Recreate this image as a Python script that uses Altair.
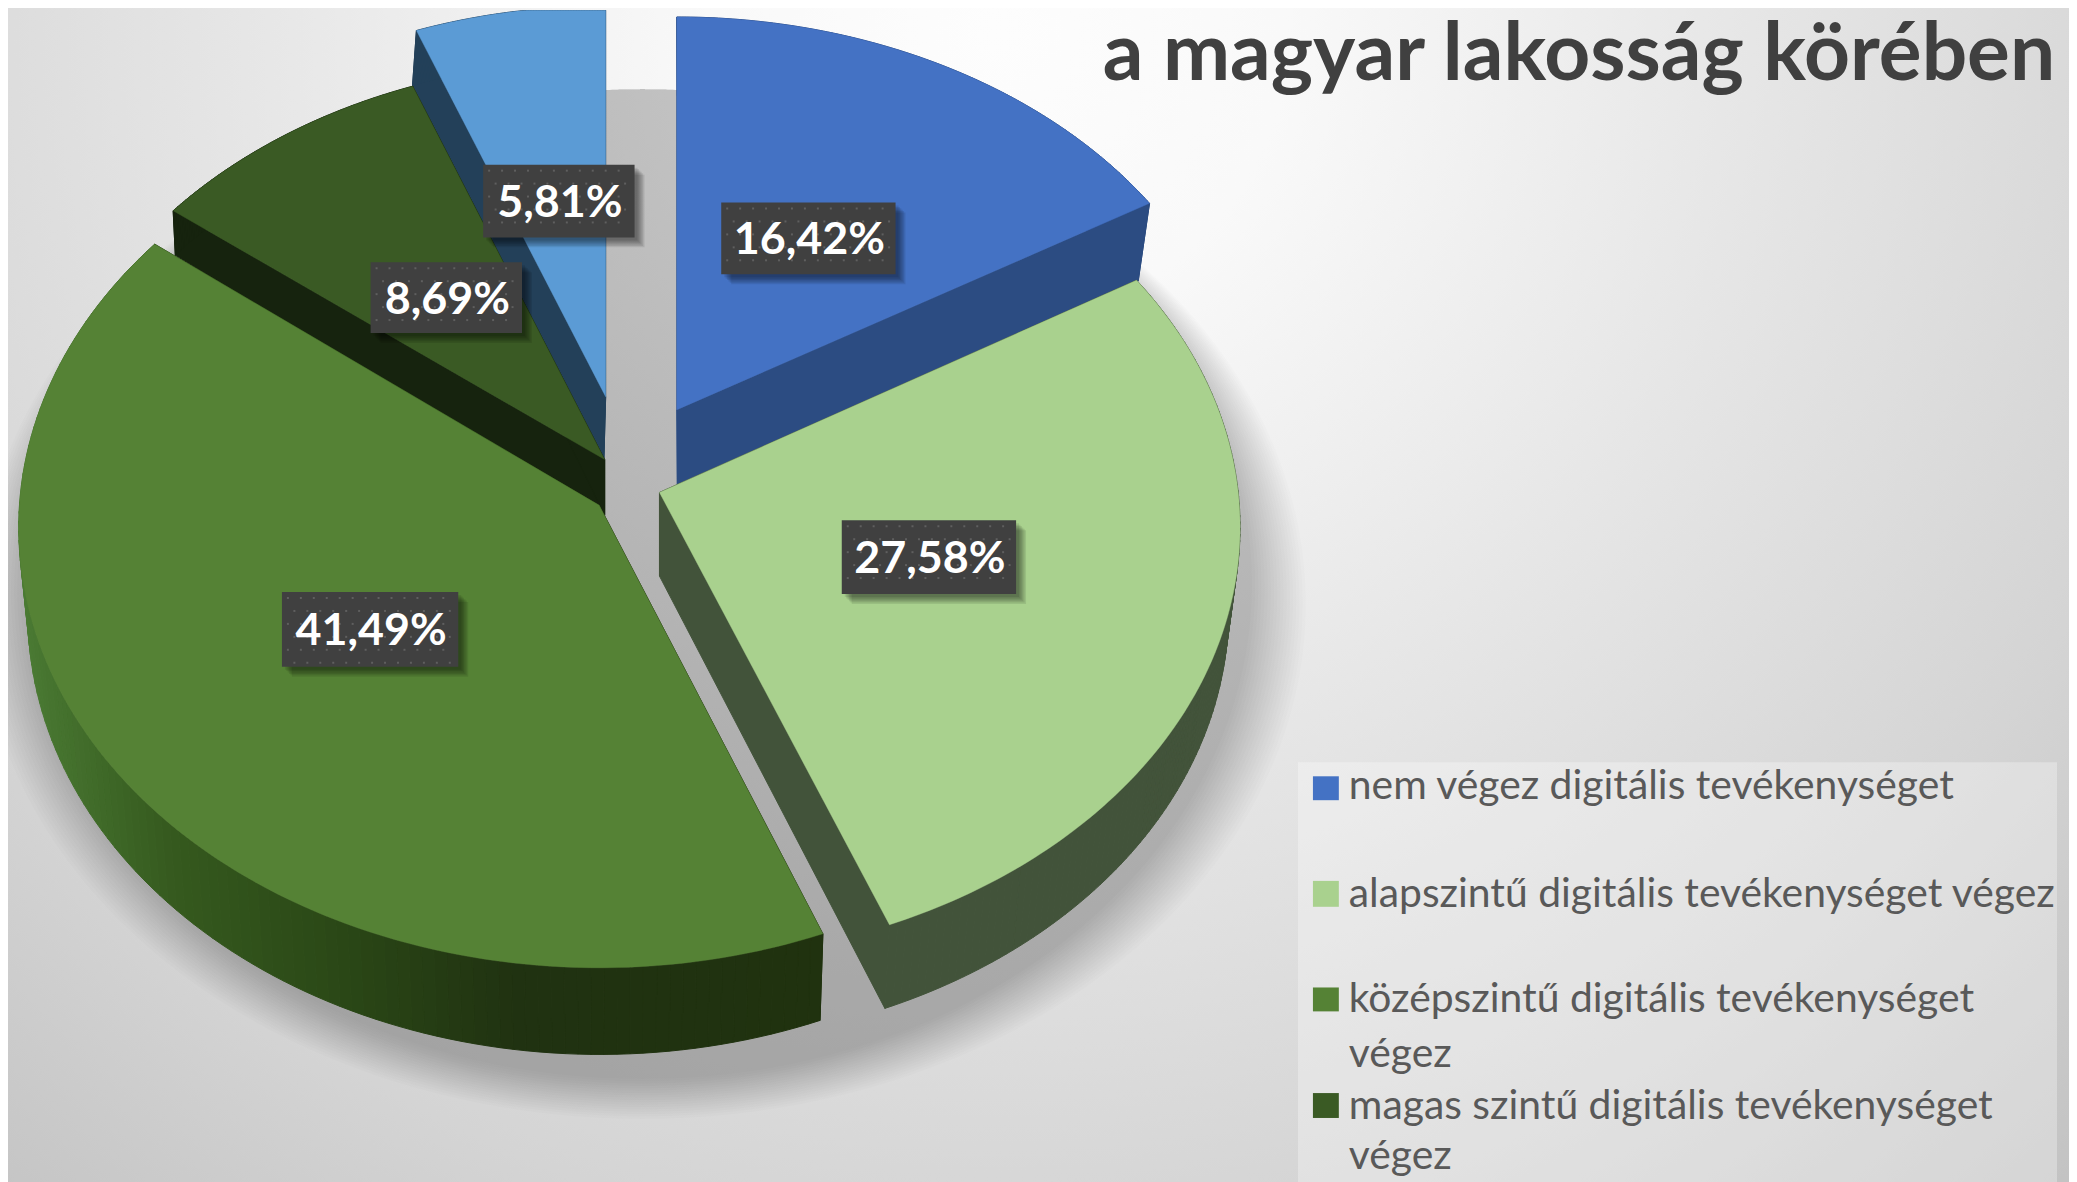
import math
import altair as alt

# ---- values ----
CATEGORIES = ["nem végez digitális tevékenységet", "alapszintű digitális tevékenységet végez",
              "középszintű digitális tevékenységet végez", "magas szintű digitális tevékenységet végez",
              "nagyon magas szintű digitális tevékenységet végez"]
SHARES = [16.42, 27.58, 41.49, 8.69, 5.81]
TITLE = "a magyar lakosság körében"
LEGEND_LINES = [["nem végez digitális tevékenységet"], ["alapszintű digitális tevékenységet végez"],
                ["középszintű digitális tevékenységet", "végez"], ["magas szintű digitális tevékenységet", "végez"]]
TOP_COLORS = ["#4472c4", "#a9d18e", "#558235", "#3a5a24", "#5b9bd5"]
WALL_COLORS = ["#2c4c82", "#42533a", None, "#16230e", "#234059"]

# ---- layout, in page pixels ----
W, H = 2069, 1174
OX, OY = 8, 8
# apex x, apex y, rx, ry, perspective, wall apex x, wall apex y, wall sx, wall sy
GEOM = [
    (679.5, 409, 567, 414, .05, 680, 486, .975, .995),
    (662, 492, 581, 432, .08, 662, 576, .98, 1.0),
    (601.5, 505, 582, 441, .05, 602, 592, .985, 1.0),
    (607, 459, 565, 420, .05, 607, 515, .995, 1.045),
    (608, 396, 557, 412, .05, 606, 466, 1.01, 1.04),
]
PAINT_ORDER = [0, 4, 3, 2, 1]
BOXES = [(724, 899, 201, 273), (845, 1020, 520, 594), (283, 460, 592, 667), (372, 524, 261, 332), (485, 637, 163, 236)]
LEG_BOX = (1303, 2065, 763, 1190)
LEG_SQ = [(1318, 1344, 777, 801), (1318, 1344, 882, 908), (1318, 1344, 989, 1013), (1318, 1344, 1095, 1120)]
LEG_BASE = [[800], [908], [1014, 1069], [1121, 1171]]
LEG_X = 1354
TITLE_X, TITLE_Y = 1107, 78
DOT_STEP = 13


def rim(g, t0, t1, n):
    ax, ay, rx, ry, q = g[:5]
    pts = []
    for i in range(n + 1):
        t = math.radians(t0 + (t1 - t0) * i / n)
        w = 1 + q * math.cos(t)
        pts.append((rx * math.sin(t) / w, -ry * math.cos(t) / w))
    return pts


def feature(points, fill, sw=0.0):
    ring = [[float(x), float(y)] for x, y in points]
    ring.append(ring[0])
    return {"type": "Feature", "geometry": {"type": "Polygon", "coordinates": [ring]},
            "properties": {"fill": fill, "sw": sw}}


def lerp_hex(stops, x):
    for (x0, c0), (x1, c1) in zip(stops, stops[1:]):
        if x <= x1:
            f = max(0.0, (x - x0) / (x1 - x0))
            a = [int(c0[i:i + 2], 16) for i in (1, 3, 5)]
            b = [int(c1[i:i + 2], 16) for i in (1, 3, 5)]
            return "#%02x%02x%02x" % tuple(round(p + (r - p) * f) for p, r in zip(a, b))
    return stops[-1][1]


GREEN_WALL = [(20, "#4a7a33"), (172, "#35591e"), (344, "#2a4716"), (516, "#203211"), (830, "#20320f")]

total = sum(SHARES)
starts, acc = [], 0.0
for v in SHARES:
    starts.append(acc)
    acc += v * 360 / total

features = []
for idx in PAINT_ORDER:
    g = GEOM[idx]
    t0, t1 = starts[idx], starts[idx] + SHARES[idx] * 360 / total
    pts = rim(g, t0, t1, 120)
    ax, ay, wx, wy, sx, sy = g[0], g[1], g[5], g[6], g[7], g[8]
    top = [(ax, ay)] + [(ax + x, ay + y) for x, y in pts]
    bot = [(wx, wy)] + [(wx + x * sx, wy + y * sy) for x, y in pts]
    m = len(top)
    for i in range(m):
        j = (i + 1) % m
        a, b, c, d = top[i], top[j], bot[j], bot[i]
        if WALL_COLORS[idx] is None:
            col = lerp_hex(GREEN_WALL, (a[0] + b[0]) / 2)
        else:
            col = WALL_COLORS[idx]
        features.append(feature([a, b, c, d], col, 1.0))
    features.append(feature(top, TOP_COLORS[idx], 0.4))

proj = dict(type="identity", scale=1, translate=[-OX, -OY])
slices = alt.Chart(alt.Data(values=features)).mark_geoshape().encode(
    fill=alt.Fill("properties.fill:N", scale=None),
    stroke=alt.Stroke("properties.fill:N", scale=None),
    strokeWidth=alt.StrokeWidth("properties.sw:Q", scale=None),
).project(**proj)

# soft shadow below the pie: stacked ellipses sharing their top edge
shadow_feats = []
N = 18
for i in range(N):
    d = i / (N - 1)
    rx, ry = 612 + 54 * d, 497 + 20 * d
    cx, cy = 645, 87 + ry
    shadow_feats.append(feature([(cx + rx * math.sin(k * math.pi / 90), cy - ry * math.cos(k * math.pi / 90))
                                 for k in range(180)], "#000000"))
shadow = alt.Chart(alt.Data(values=shadow_feats)).mark_geoshape(
    fill="#000000", stroke=None, opacity=0.0135).project(**proj)

X = alt.X("x:Q", scale=alt.Scale(domain=[OX, OX + W], range=[0, W]), axis=None)
X2 = alt.X2("x2:Q")
Y = alt.Y("y:Q", scale=alt.Scale(domain=[OY, OY + H], range=[0, H]), axis=None)
Y2 = alt.Y2("y2:Q")

bg = alt.Chart(alt.Data(values=[{"x": 0, "x2": 2100, "y": -1170, "y2": 1230}])).mark_rect(
    fill=alt.Gradient(gradient="radial", x1=.48, y1=.5, r1=0, x2=.48, y2=.5, r2=.75, stops=[
        alt.GradientStop(offset=0, color="#fdfdfd"),
        alt.GradientStop(offset=.16, color="#f9f9f9"),
        alt.GradientStop(offset=.42, color="#e6e6e6"),
        alt.GradientStop(offset=.68, color="#d4d4d4"),
        alt.GradientStop(offset=1, color="#b8b8b8"),
    ])).encode(x=X, x2=X2, y=Y, y2=Y2)

box_rows = [{"x": b[0], "x2": b[1], "y": b[2], "y2": b[3]} for b in BOXES]
label_shadows = []
for k in range(6):
    o = 3 + k * 1.4
    label_shadows.append(alt.Chart(alt.Data(values=[
        {"x": r["x"] + o, "x2": r["x2"] + o, "y": r["y"] + o, "y2": r["y2"] + o} for r in box_rows
    ])).mark_rect(fill="#000000", opacity=0.09).encode(x=X, x2=X2, y=Y, y2=Y2))
boxes = alt.Chart(alt.Data(values=box_rows)).mark_rect(fill="#404040").encode(x=X, x2=X2, y=Y, y2=Y2)

dot_rows = []
for b in BOXES:
    yy = b[2] + 6
    row = 0
    while yy < b[3] - 3:
        xx = b[0] + 6 + (row % 2) * DOT_STEP / 2
        while xx < b[1] - 3:
            dot_rows.append({"x": xx, "y": yy})
            xx += DOT_STEP
        yy += DOT_STEP
        row += 1
dots = alt.Chart(alt.Data(values=dot_rows)).mark_square(color="#6a6a6a", size=4, opacity=0.75).encode(x=X, y=Y)

label_rows = [{"x": (b[0] + b[1]) / 2 + 1, "y": (b[2] + b[3]) / 2 + 2, "t": f"{v:.2f}%".replace(".", ",")}
              for b, v in zip(BOXES, SHARES)]
labels = alt.Chart(alt.Data(values=label_rows)).mark_text(
    font="Lato", fontSize=45, fontWeight="bold", color="white", baseline="middle", align="center"
).encode(x=X, y=Y, text="t:N")

leg_bg = alt.Chart(alt.Data(values=[dict(x=LEG_BOX[0], x2=LEG_BOX[1], y=LEG_BOX[2], y2=LEG_BOX[3])])).mark_rect(
    fill="#ffffff", opacity=0.3).encode(x=X, x2=X2, y=Y, y2=Y2)
leg_sq = alt.Chart(alt.Data(values=[dict(x=s[0], x2=s[1], y=s[2], y2=s[3], c=TOP_COLORS[i])
                                    for i, s in enumerate(LEG_SQ)])).mark_rect().encode(
    x=X, x2=X2, y=Y, y2=Y2, fill=alt.Fill("c:N", scale=None))
leg_rows = []
for lines, bases in zip(LEGEND_LINES, LEG_BASE):
    for t, b in zip(lines, bases):
        leg_rows.append({"x": LEG_X, "y": b, "t": t})
leg_txt = alt.Chart(alt.Data(values=leg_rows)).mark_text(
    font="Lato", fontSize=41, color="#595959", align="left", baseline="alphabetic"
).encode(x=X, y=Y, text="t:N")
title = alt.Chart(alt.Data(values=[{"x": TITLE_X, "y": TITLE_Y, "t": TITLE}])).mark_text(
    font="Lato", fontSize=80.5, fontWeight="bold", color="#404040", align="left", baseline="alphabetic"
).encode(x=X, y=Y, text="t:N")

chart = alt.layer(bg, shadow, slices, *label_shadows, boxes, dots, labels, leg_bg, leg_sq, leg_txt, title).properties(
    width=W, height=H, padding=0, autosize=alt.AutoSizeParams(type="none"),
    background="#ffffff",
).configure_view(stroke=None)

chart.save("out.html", embed_options={"renderer": "svg", "actions": False})
